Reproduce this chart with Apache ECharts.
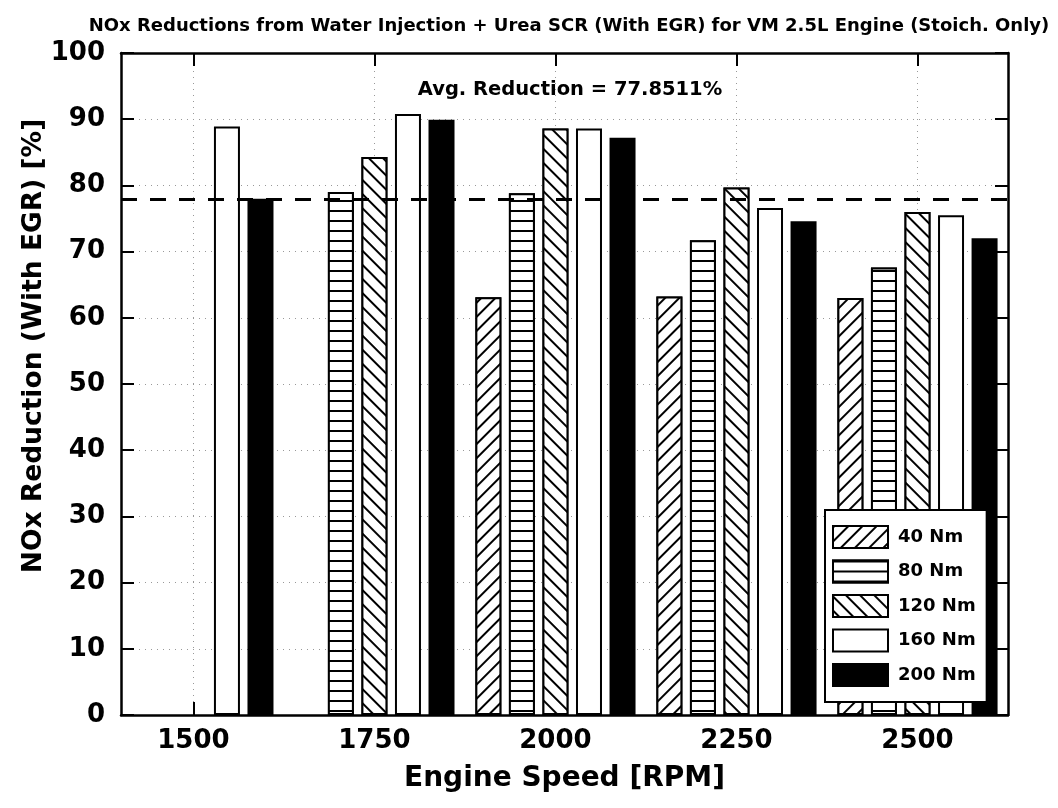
<!DOCTYPE html>
<html>
<head>
<meta charset="utf-8">
<title>NOx Reductions - VM 2.5L Engine</title>
<script src="https://cdn.jsdelivr.net/npm/echarts@6/dist/echarts.min.js"></script>
<style>
  html, body { margin: 0; padding: 0; background: #fff; }
  #chart { width: 1058px; height: 808px; }
</style>
</head>
<body>
<div id="chart"></div>
<script>
// Engine speeds (RPM) of each bar group
const engineSpeeds = [1500, 1750, 2000, 2250, 2500];
// Torque settings, one series each
const torqueNames = ['40 Nm', '80 Nm', '120 Nm', '160 Nm', '200 Nm'];
// NOx reduction [%] per engine speed (null = not tested)
const nm40  = [null, null, 63.1, 63.2, 63.0];
const nm80  = [null, 79.0, 78.8, 71.7, 67.6];
const nm120 = [null, 84.3, 88.6, 79.7, 76.0];
const nm160 = [88.9, 90.8, 88.6, 76.6, 75.5];
const nm200 = [78.0, 89.9, 87.2, 74.6, 72.0];
// Average reduction over all operating points
const avgReduction = 77.8511;
// Y tick values
const yTicks = [0, 10, 20, 30, 40, 50, 60, 70, 80, 90, 100];

const FONT = '"DejaVu Sans", "Liberation Sans", Arial, sans-serif';

const hatch = (rot) => ({
  symbol: 'rect',
  symbolSize: 1,
  dashArrayX: [1, 0],
  dashArrayY: [1.4, 7.8],
  rotation: rot,
  color: '#000',
  backgroundColor: '#fff'
});

const styles = [
  { color: '#fff', decal: hatch(-Math.PI / 4) },
  { color: '#fff', decal: hatch(0) },
  { color: '#fff', decal: hatch(Math.PI / 4) },
  { color: '#fff' },
  { color: '#000' }
];

const values = [nm40, nm80, nm120, nm160, nm200];

const toPairs = (arr) => engineSpeeds
  .map((rpm, i) => [rpm, arr[i]])
  .filter(p => p[1] !== null);

const series = values.map((arr, k) => {
  const s = {
    name: torqueNames[k],
    type: 'bar',
    xAxisIndex: 0,
    yAxisIndex: 0,
    barWidth: 26,
    barGap: '29%',
    data: toPairs(arr),
    itemStyle: Object.assign({ borderColor: '#000', borderWidth: 2 }, styles[k]),
    emphasis: { disabled: true },
    animation: false
  };
  if (k === torqueNames.length - 1) {
    s.markLine = {
      silent: true,
      symbol: 'none',
      animation: false,
      label: { show: false },
      lineStyle: { color: '#000', width: 3, type: [16, 13] },
      data: [{ yAxis: avgReduction }]
    };
  }
  return s;
});

const axisCommonX = {
  type: 'value',
  min: 1400,
  max: 2625,
  axisLine: { show: true, onZero: false, lineStyle: { color: '#000', width: 2.5 } },
  axisTick: { show: true, inside: true, length: 13, customValues: engineSpeeds,
              lineStyle: { color: '#000', width: 2 } }
};

const axisCommonY = {
  type: 'value',
  min: 0,
  max: 100,
  interval: 10,
  axisLine: { show: true, lineStyle: { color: '#000', width: 2.5 } },
  axisTick: { show: true, inside: true, length: 13, lineStyle: { color: '#000', width: 2 } }
};

const option = {
  backgroundColor: '#fff',
  animation: false,
  grid: { left: 121, right: 50, top: 53, bottom: 93, containLabel: false },
  xAxis: [
    Object.assign({}, axisCommonX, {
      position: 'bottom',
      name: 'Engine Speed [RPM]',
      nameLocation: 'middle',
      nameGap: 50,
      nameTextStyle: { fontFamily: FONT, fontWeight: 'bold', fontSize: 28, color: '#000' },
      axisLabel: { show: true, customValues: engineSpeeds, margin: 13,
                   fontFamily: FONT, fontWeight: 'bold', fontSize: 26, color: '#000',
                   formatter: (v) => String(v) },
      splitLine: { show: true, lineStyle: { color: '#999', width: 1, type: [1, 5] } }
    }),
    Object.assign({}, axisCommonX, {
      position: 'top',
      axisLabel: { show: false },
      splitLine: { show: false }
    })
  ],
  yAxis: [
    Object.assign({}, axisCommonY, {
      position: 'left',
      axisLabel: { show: true, margin: 16, fontFamily: FONT, fontWeight: 'bold', fontSize: 26, color: '#000',
                   formatter: (v) => yTicks.includes(v) ? String(v) : '' },
      splitLine: { show: true, lineStyle: { color: '#999', width: 1, type: [1, 5] } }
    }),
    Object.assign({}, axisCommonY, {
      position: 'right',
      axisLabel: { show: false },
      splitLine: { show: false }
    })
  ],
  legend: {
    orient: 'vertical',
    left: 825,
    top: 510,
    padding: [15, 11, 15, 7],
    icon: 'rect',
    itemWidth: 55,
    itemHeight: 22,
    itemGap: 10.5,
    backgroundColor: '#fff',
    borderColor: '#000',
    borderWidth: 2,
    borderRadius: 0,
    selectedMode: false,
    data: torqueNames,
    textStyle: { fontFamily: FONT, fontWeight: 'bold', fontSize: 18, color: '#000', padding: [0, 0, 0, 5] }
  },
  graphic: [
    {
      type: 'text',
      x: 569, y: 26,
      style: {
        text: 'NOx Reductions from Water Injection + Urea SCR (With EGR) for VM 2.5L Engine (Stoich. Only)',
        font: 'bold 18px ' + FONT,
        align: 'center', verticalAlign: 'middle', fill: '#000'
      }
    },
    {
      type: 'text',
      x: 570, y: 90,
      style: {
        text: 'Avg. Reduction = ' + avgReduction + '%',
        font: 'bold 19.5px ' + FONT,
        align: 'center', verticalAlign: 'middle', fill: '#000'
      }
    },
    {
      type: 'text',
      x: 34, y: 346,
      rotation: Math.PI / 2,
      style: {
        text: 'NOx Reduction (With EGR) [%]',
        font: 'bold 26.5px ' + FONT,
        align: 'center', verticalAlign: 'middle', fill: '#000'
      }
    }
  ],
  series: series
};

const chart = echarts.init(document.getElementById('chart'), null, { renderer: 'canvas' });
chart.setOption(option);
</script>
</body>
</html>
